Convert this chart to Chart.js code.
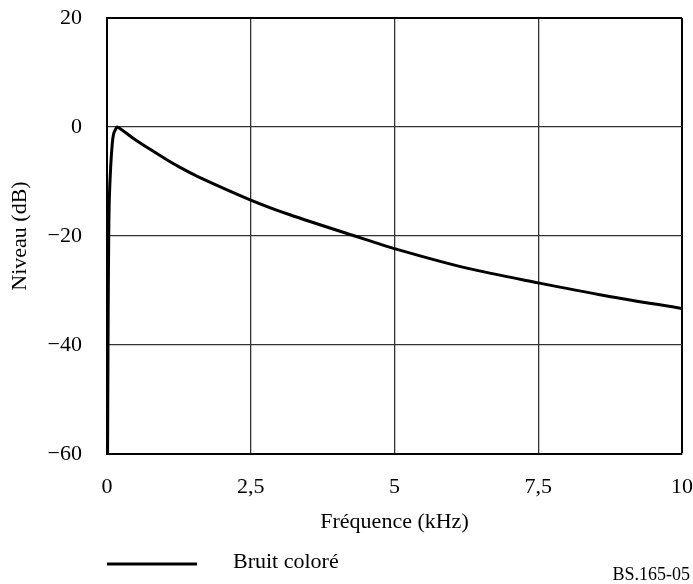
<!DOCTYPE html>
<html lang="fr">
<head>
<meta charset="utf-8">
<title>Bruit coloré</title>
<script src="https://cdn.jsdelivr.net/npm/chart.js@4/dist/chart.umd.min.js"></script>
<style>
  html, body { margin: 0; padding: 0; background: #fff; }
  #wrap { width: 693px; height: 584px; }
</style>
</head>
<body>
<div id="wrap"><canvas id="noiseChart" width="693" height="584"></canvas></div>
<script>
// courbe du bruit coloré : fréquence (kHz) / niveau (dB)
const freqKHz = [0.01, 0.02, 0.03, 0.04, 0.064, 0.092, 0.116, 0.15, 0.18,
  0.46, 0.75, 1.04, 1.27, 1.56, 2.5, 3.18, 4.31, 5.03, 6.26, 7.5, 8.69, 10];
const levelDb = [-60, -35, -20, -13.4, -7.3, -3, -1.2, -0.4, 0,
  -2.1, -4.1, -6.0, -7.4, -9.0, -13.4, -16.1, -20, -22.4, -25.9, -28.6, -31.0, -33.3];
const xTicks = [0, 2.5, 5, 7.5, 10];
const yTicks = [-60, -40, -20, 0, 20];
const seriesLabel = 'Bruit coloré';
const figureRef = 'BS.165-05';

const FONT = 'Liberation Serif, "Times New Roman", serif';

const points = freqKHz.map((f, i) => ({ x: f, y: levelDb[i] }));

function fmtNum(v) {
  return String(v).replace('.', ',').replace('-', '\u2212');
}

// légende + référence de figure en bas de page
const footerPlugin = {
  id: 'footer',
  afterDraw(chart) {
    const ctx = chart.ctx;
    const ds = chart.data.datasets[0];
    ctx.save();
    ctx.strokeStyle = ds.borderColor;
    ctx.lineWidth = 3;
    ctx.beginPath();
    ctx.moveTo(107, 564);
    ctx.lineTo(197, 564);
    ctx.stroke();
    ctx.fillStyle = '#000';
    ctx.font = '22px ' + FONT;
    ctx.textBaseline = 'middle';
    ctx.textAlign = 'left';
    ctx.fillText(ds.label, 233, 562);
    ctx.font = '18px ' + FONT;
    ctx.textAlign = 'right';
    ctx.fillText(figureRef, 690, 575);
    ctx.restore();
  }
};

const edgeColor = (edgeVal) => (c) => (c.tick && c.tick.value === edgeVal ? '#000' : '#333');
const edgeWidth = (edgeVal) => (c) => (c.tick && c.tick.value === edgeVal ? 2 : 1.3);

// taille fixe des axes, sans la marge ajoutée pour les libellés extrêmes
function fixSize(prop, size) {
  return (s) => {
    s[prop] = size;
    s.paddingTop = 0;
    s.paddingBottom = 0;
    s.paddingLeft = 0;
    s.paddingRight = 0;
  };
}

new Chart(document.getElementById('noiseChart').getContext('2d'), {
  type: 'line',
  data: {
    datasets: [{
      label: seriesLabel,
      data: points,
      borderColor: '#000',
      borderWidth: 3,
      pointRadius: 0,
      tension: 0.3,
      fill: false
    }]
  },
  options: {
    responsive: false,
    animation: false,
    layout: { padding: { left: 0, right: 11, top: 18, bottom: 0 } },
    plugins: {
      legend: { display: false },
      tooltip: { enabled: false }
    },
    scales: {
      x: {
        type: 'linear',
        min: 0,
        max: 10,
        afterBuildTicks: (s) => { s.ticks = xTicks.map(v => ({ value: v })); },
        afterFit: fixSize('height', 130),
        grid: { drawTicks: false, color: edgeColor(10), lineWidth: edgeWidth(10) },
        border: { color: '#000', width: 2 },
        ticks: {
          padding: 20,
          color: '#000',
          font: { family: FONT, size: 22 },
          maxRotation: 0,
          callback: (v) => fmtNum(v)
        },
        title: {
          display: true,
          text: 'Fréquence (kHz)',
          color: '#000',
          font: { family: FONT, size: 22 },
          padding: { top: 0, bottom: 49 }
        }
      },
      y: {
        min: -60,
        max: 20,
        afterBuildTicks: (s) => { s.ticks = yTicks.map(v => ({ value: v })); },
        afterFit: fixSize('width', 107),
        grid: { drawTicks: false, color: edgeColor(20), lineWidth: edgeWidth(20) },
        border: { color: '#000', width: 2 },
        ticks: {
          padding: 25,
          color: '#000',
          font: { family: FONT, size: 22 },
          callback: (v) => fmtNum(v)
        },
        title: {
          display: true,
          text: 'Niveau (dB)',
          color: '#000',
          font: { family: FONT, size: 22 },
          padding: { top: 7, bottom: 0 }
        }
      }
    }
  },
  plugins: [footerPlugin]
});
</script>
</body>
</html>
